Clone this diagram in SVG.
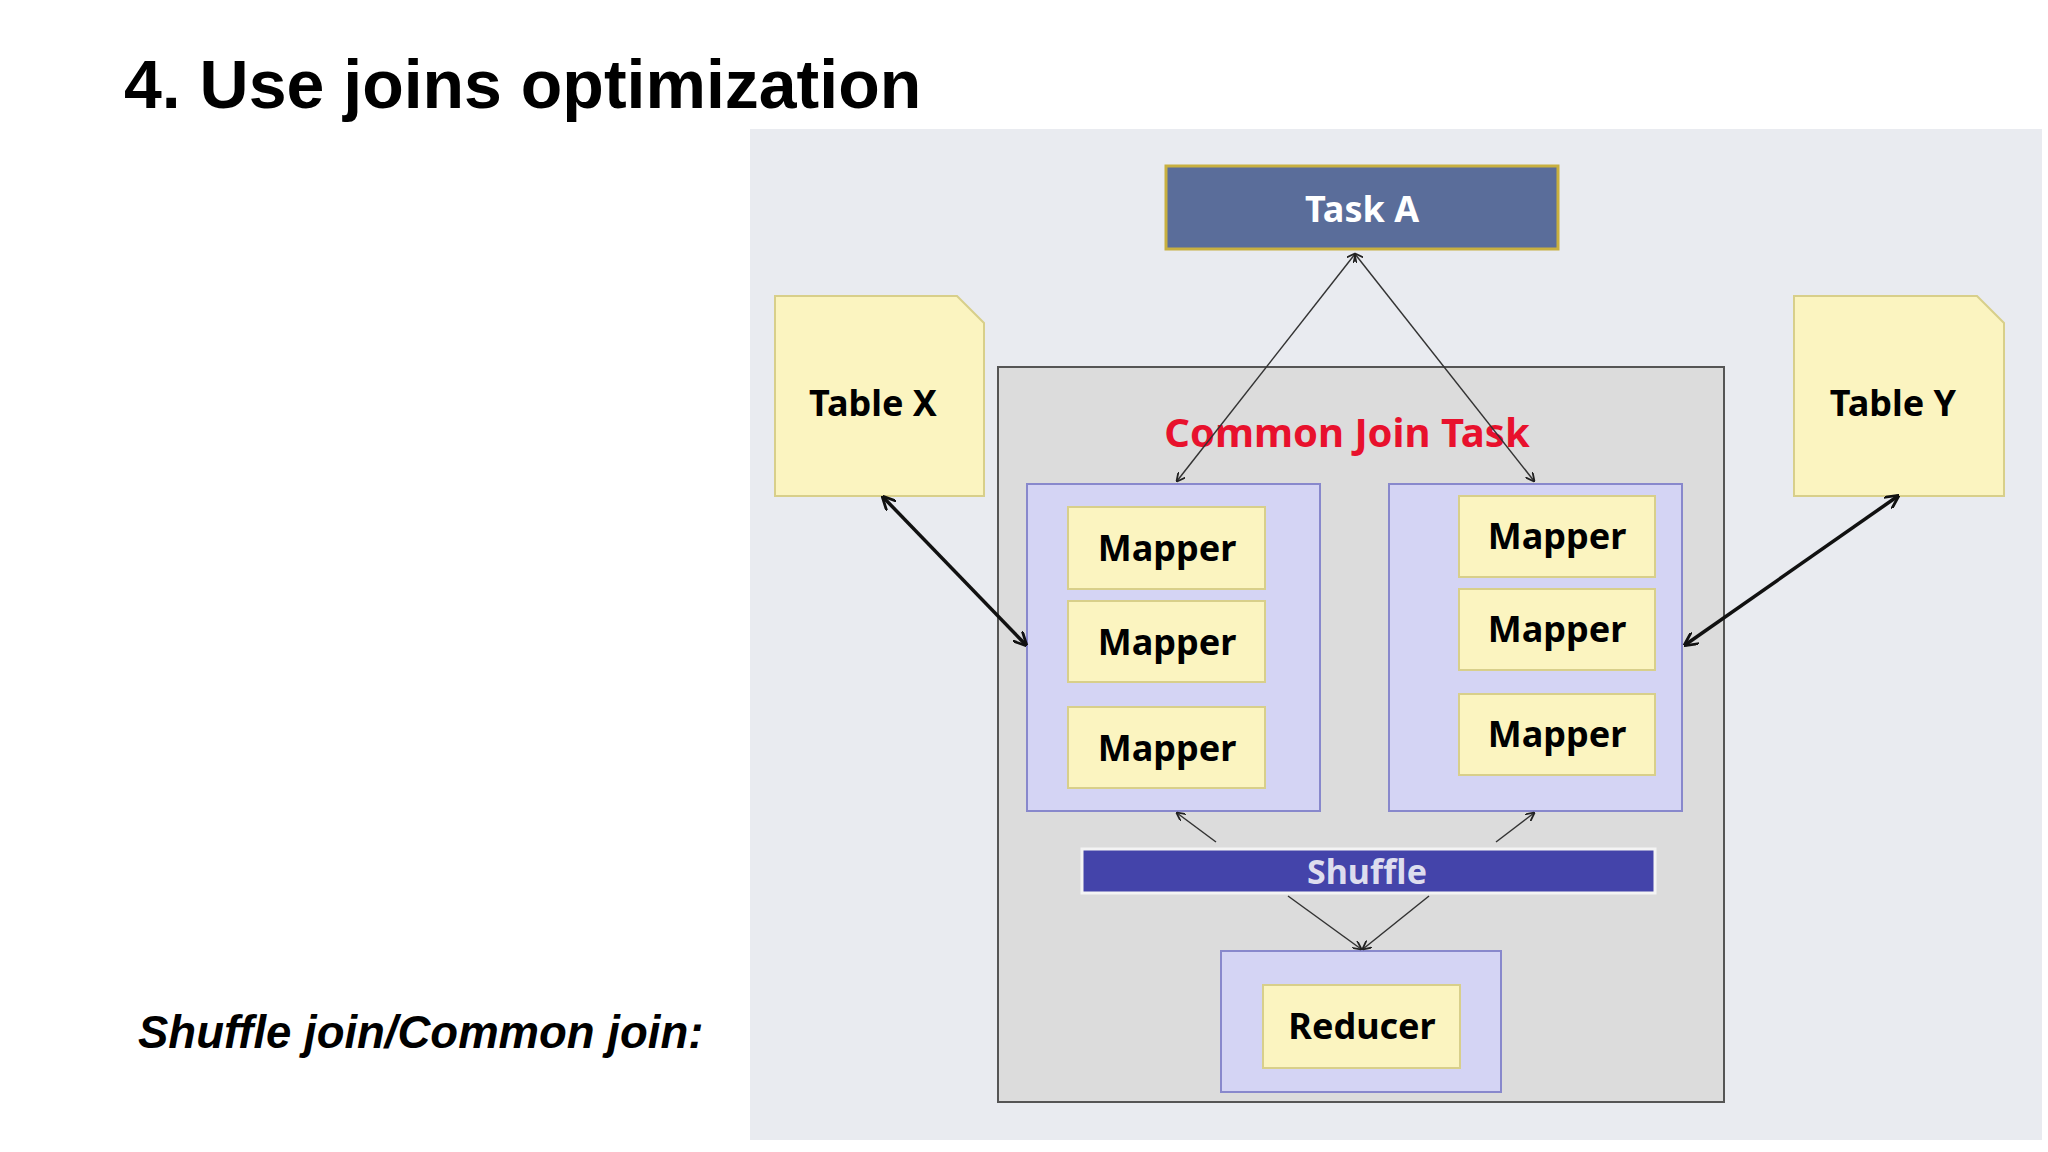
<svg xmlns="http://www.w3.org/2000/svg" width="2048" height="1152" viewBox="0 0 2048 1152">
<style>
.t{font-family:"Noto Sans","Open Sans",sans-serif;font-weight:bold;text-anchor:middle}
.m{fill:#fbf4c0;stroke:#d8cf8a;stroke-width:2}
.g{fill:#d4d4f4;stroke:#8888cc;stroke-width:2}
.thin{stroke:#333;stroke-width:1.5;fill:none}
.thick{stroke:#111;stroke-width:3.5;fill:none}
</style>
<defs>
<marker id="a" viewBox="0 0 10 10" refX="9" refY="5" markerWidth="9" markerHeight="9" orient="auto-start-reverse" markerUnits="userSpaceOnUse"><path d="M0,0 L10,5 L0,10" fill="none" stroke="#222" stroke-width="2"/></marker>
<marker id="b" viewBox="0 0 10 10" refX="9" refY="5" markerWidth="14" markerHeight="14" orient="auto-start-reverse" markerUnits="userSpaceOnUse"><path d="M0,0 L10,5 L0,10" fill="none" stroke="#111" stroke-width="2"/></marker>
</defs>
<rect width="2048" height="1152" fill="#fff"/>
<text x="124" y="108" font-family="Liberation Sans,Arial,sans-serif" font-weight="bold" font-size="68">4. Use joins optimization</text>
<text x="138" y="1048" font-family="Liberation Sans,Arial,sans-serif" font-weight="bold" font-style="italic" font-size="45.5">Shuffle join/Common join:</text>
<rect x="750" y="129" width="1292" height="1011" fill="#e9ebf0"/>
<g transform="translate(-5,-2)">
<g id="common"><rect x="1003" y="369" width="726" height="735" fill="#dcdcdc" stroke="#555" stroke-width="2"/>
<text class="t" x="1352" y="449" font-size="40" fill="#e8112d" font-weight="600">Common Join Task</text></g>
<g id="taskA"><rect x="1171" y="168" width="392" height="83" fill="#5a6d9a" stroke="#c8b040" stroke-width="3"/><text class="t" x="1367" y="224" font-size="36" fill="#fff">Task A</text></g>
<g id="tableX"><path d="M780,298 H962 L989,325 V498 H780 Z" fill="#fbf4c0" stroke="#d8cf8a" stroke-width="2"/><text class="t" x="878" y="418" font-size="36">Table X</text></g>
<g id="tableY"><path d="M1799,298 H1982 L2009,325 V498 H1799 Z" fill="#fbf4c0" stroke="#d8cf8a" stroke-width="2"/><text class="t" x="1898" y="418" font-size="36">Table Y</text></g>
<g id="leftMappers"><rect class="g" x="1032" y="486" width="293" height="327"/>
<rect class="m" x="1073" y="509" width="197" height="82"/><text class="t" x="1172" y="563" font-size="36">Mapper</text>
<rect class="m" x="1073" y="603" width="197" height="81"/><text class="t" x="1172" y="657" font-size="36">Mapper</text>
<rect class="m" x="1073" y="709" width="197" height="81"/><text class="t" x="1172" y="763" font-size="36">Mapper</text></g>
<g id="rightMappers"><rect class="g" x="1394" y="486" width="293" height="327"/>
<rect class="m" x="1464" y="498" width="196" height="81"/><text class="t" x="1562" y="551" font-size="36">Mapper</text>
<rect class="m" x="1464" y="591" width="196" height="81"/><text class="t" x="1562" y="644" font-size="36">Mapper</text>
<rect class="m" x="1464" y="696" width="196" height="81"/><text class="t" x="1562" y="749" font-size="36">Mapper</text></g>
<g id="shuffle"><rect x="1087" y="851" width="573" height="44" fill="#4444aa" stroke="#f4f4f4" stroke-width="3"/><text class="t" x="1372" y="886" font-size="34" fill="#dde">Shuffle</text></g>
<g id="reducer"><rect class="g" x="1226" y="953" width="280" height="141"/><rect class="m" x="1268" y="987" width="197" height="83"/><text class="t" x="1367" y="1041" font-size="36">Reducer</text></g>
<g id="connectors">
<line class="thin" x1="1360" y1="256" x2="1182" y2="483" marker-start="url(#a)" marker-end="url(#a)"/>
<line class="thin" x1="1360" y1="256" x2="1539" y2="483" marker-start="url(#a)" marker-end="url(#a)"/>
<line class="thick" x1="888" y1="499" x2="1031" y2="647" marker-start="url(#b)" marker-end="url(#b)"/>
<line class="thick" x1="1903" y1="498" x2="1690" y2="647" marker-start="url(#b)" marker-end="url(#b)"/>
<line class="thin" x1="1221" y1="844" x2="1182" y2="815" marker-end="url(#a)"/>
<line class="thin" x1="1501" y1="844" x2="1539" y2="815" marker-end="url(#a)"/>
<line class="thin" x1="1293" y1="898" x2="1366" y2="951" marker-end="url(#a)"/>
<line class="thin" x1="1434" y1="898" x2="1368" y2="951" marker-end="url(#a)"/>
</g>
</g>
</svg>
